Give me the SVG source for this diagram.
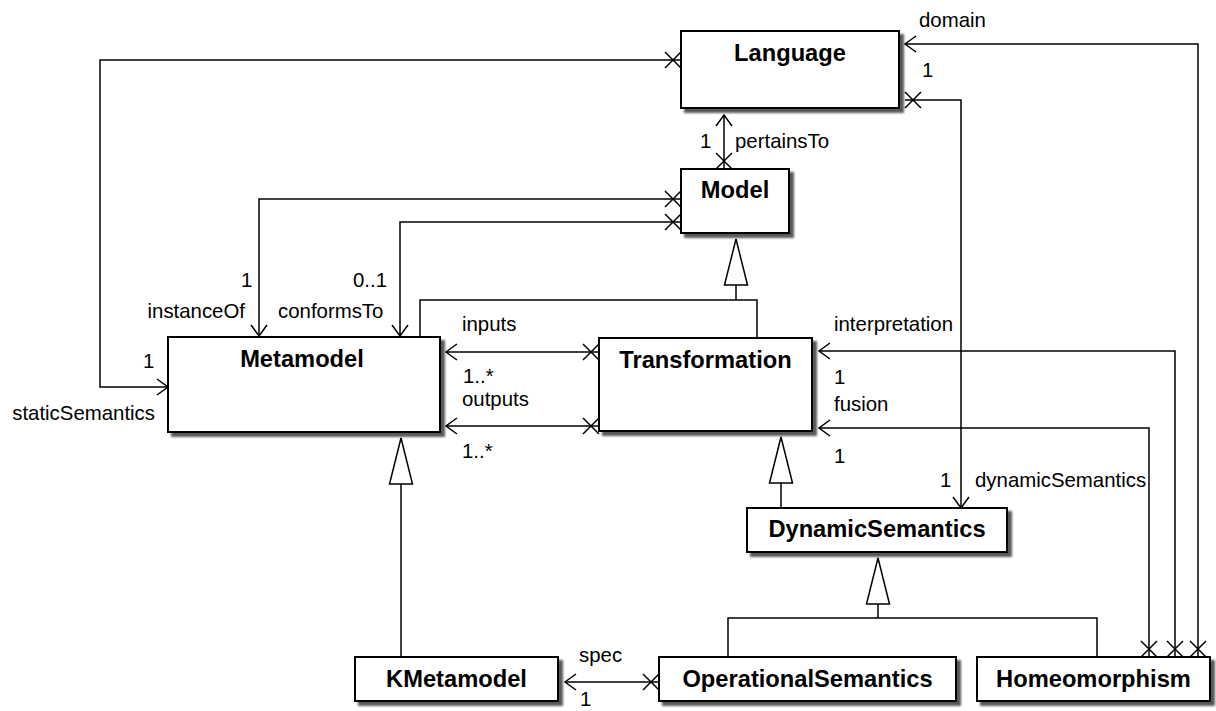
<svg xmlns="http://www.w3.org/2000/svg" width="1216" height="711" viewBox="0 0 1216 711">
<defs>
<style>
.box rect{fill:#fff;stroke:#000;stroke-width:2;filter:url(#sh)}
.title{font-family:"Liberation Sans",Arial,sans-serif;font-weight:bold;font-size:23.7px;text-anchor:middle;fill:#000}
.lbl{font-family:"Liberation Sans",Arial,sans-serif;font-size:20.4px;fill:#000}
.conn path{fill:none;stroke:#000;stroke-width:1.5}
</style>
<filter id="sh" x="-5%" y="-5%" width="115%" height="130%">
<feDropShadow dx="4" dy="4" stdDeviation="1.3" flood-color="#000" flood-opacity="0.65"/>
</filter>
<marker id="arr" markerUnits="userSpaceOnUse" markerWidth="30" markerHeight="30" refX="0" refY="0" orient="auto" style="overflow:visible">
<path d="M -11 -8 L 0 0 L -11 8" fill="none" stroke="#000" stroke-width="1.5"/>
</marker>
<marker id="x" markerUnits="userSpaceOnUse" markerWidth="30" markerHeight="30" refX="0" refY="0" orient="auto" style="overflow:visible">
<path d="M 0 -8 L 16 8 M 0 8 L 16 -8" fill="none" stroke="#000" stroke-width="1.5"/>
</marker>
<marker id="gen" markerUnits="userSpaceOnUse" markerWidth="60" markerHeight="60" refX="0" refY="0" orient="auto" style="overflow:visible">
<polygon points="0,0 -46,-11.5 -46,11.5" fill="#fff" stroke="#000" stroke-width="1.5"/>
</marker>
</defs>
<rect width="1216" height="711" fill="#fff"/>

<g id="connectors" class="conn">
<!-- generalizations -->
<path d="M 420 337 V 300 H 757 V 338"/>
<path d="M 736 300 V 239" marker-end="url(#gen)"/>
<path d="M 401 657 V 438" marker-end="url(#gen)"/>
<path d="M 781 508 V 437" marker-end="url(#gen)"/>
<path d="M 728 657 V 618 H 1097 V 657"/>
<path d="M 878 618 V 558" marker-end="url(#gen)"/>
<!-- associations -->
<path d="M 681 60 H 100 V 387 H 168" marker-start="url(#x)" marker-end="url(#arr)"/>
<path d="M 681 199 H 259 V 336" marker-start="url(#x)" marker-end="url(#arr)"/>
<path d="M 681 222 H 400 V 336" marker-start="url(#x)" marker-end="url(#arr)"/>
<path d="M 724 169 V 115" marker-start="url(#x)" marker-end="url(#arr)"/>
<path d="M 1198 657 V 44 H 905" marker-start="url(#x)" marker-end="url(#arr)"/>
<path d="M 905 100 H 961 V 508" marker-start="url(#x)" marker-end="url(#arr)"/>
<path d="M 1175 657 V 351 H 819" marker-start="url(#x)" marker-end="url(#arr)"/>
<path d="M 1149 657 V 428 H 819" marker-start="url(#x)" marker-end="url(#arr)"/>
<path d="M 599 352 H 446" marker-start="url(#x)" marker-end="url(#arr)"/>
<path d="M 599 426 H 446" marker-start="url(#x)" marker-end="url(#arr)"/>
<path d="M 659 682 H 565" marker-start="url(#x)" marker-end="url(#arr)"/>
</g>

<g id="labels">
<text class="lbl" x="919" y="27">domain</text>
<text class="lbl" x="922" y="77">1</text>
<text class="lbl" x="700" y="148">1</text>
<text class="lbl" x="735" y="148">pertainsTo</text>
<text class="lbl" x="143" y="368">1</text>
<text class="lbl" x="155" y="420" text-anchor="end">staticSemantics</text>
<text class="lbl" x="241" y="287">1</text>
<text class="lbl" x="245" y="318" text-anchor="end">instanceOf</text>
<text class="lbl" x="353" y="287">0..1</text>
<text class="lbl" x="278" y="318">conformsTo</text>
<text class="lbl" x="462" y="331">inputs</text>
<text class="lbl" x="463" y="383">1..*</text>
<text class="lbl" x="462" y="406">outputs</text>
<text class="lbl" x="462" y="458">1..*</text>
<text class="lbl" x="834" y="331">interpretation</text>
<text class="lbl" x="834" y="384">1</text>
<text class="lbl" x="834" y="411">fusion</text>
<text class="lbl" x="834" y="463">1</text>
<text class="lbl" x="940" y="487">1</text>
<text class="lbl" x="975" y="487">dynamicSemantics</text>
<text class="lbl" x="579" y="662">spec</text>
<text class="lbl" x="580" y="706">1</text>
</g>

<g id="Language" class="box"><rect x="681" y="31" width="218" height="77"/><text class="title" x="790" y="61">Language</text></g>
<g id="Model" class="box"><rect x="681" y="169" width="108" height="64"/><text class="title" x="735" y="198">Model</text></g>
<g id="Metamodel" class="box"><rect x="168" y="337" width="272" height="95"/><text class="title" x="302" y="367">Metamodel</text></g>
<g id="Transformation" class="box"><rect x="599" y="338" width="213" height="93"/><text class="title" x="705.5" y="368">Transformation</text></g>
<g id="DynamicSemantics" class="box"><rect x="747" y="508" width="260" height="44"/><text class="title" x="877" y="537">DynamicSemantics</text></g>
<g id="KMetamodel" class="box"><rect x="355" y="657" width="203" height="44"/><text class="title" x="456.5" y="687">KMetamodel</text></g>
<g id="OperationalSemantics" class="box"><rect x="659" y="657" width="297" height="44"/><text class="title" x="807.5" y="687">OperationalSemantics</text></g>
<g id="Homeomorphism" class="box"><rect x="977" y="657" width="233" height="44"/><text class="title" x="1093.5" y="687">Homeomorphism</text></g>
</svg>
